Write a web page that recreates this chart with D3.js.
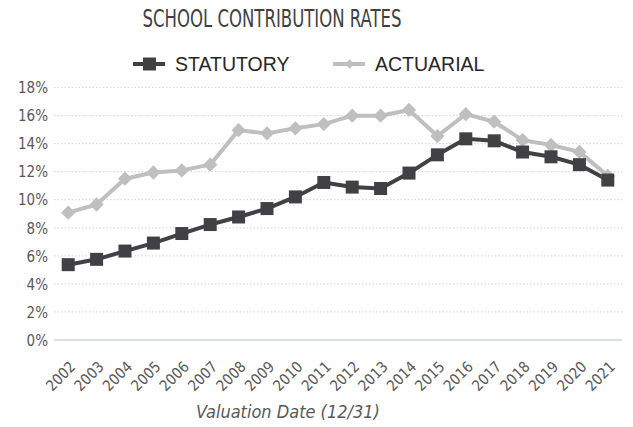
<!DOCTYPE html>
<style>
    body { margin: 0; background: #fff; }
    text { fill: #595959; }
    .tick text { font: 15px "DejaVu Sans Condensed", "DejaVu Sans", sans-serif; fill: #595959; }
    .title { font: 24px "DejaVu Sans Condensed", sans-serif; fill: #404040; }
    .legend text { font: 19.5px "Liberation Sans", Arial, sans-serif; fill: #262626; }
    .xtitle { font: italic 18px "DejaVu Sans Condensed", sans-serif; fill: #595959; }
</style>
<svg width="633" height="427"></svg>
<script src="https://d3js.org/d3.v7.min.js"></script>
<script>
    var years = ["2002","2003","2004","2005","2006","2007","2008","2009","2010","2011",
                 "2012","2013","2014","2015","2016","2017","2018","2019","2020","2021"];
    var statutory = [5.37, 5.75, 6.34, 6.91, 7.59, 8.23, 8.77, 9.37, 10.2, 11.23,
                     10.9, 10.8, 11.9, 13.2, 14.34, 14.2, 13.4, 13.06, 12.5, 11.4];
    var actuarial = [9.08, 9.66, 11.5, 11.94, 12.09, 12.5, 14.96, 14.73, 15.09, 15.39,
                     15.99, 15.99, 16.4, 14.54, 16.1, 15.56, 14.25, 13.9, 13.41, 11.7];
    var yTicks = [0, 2, 4, 6, 8, 10, 12, 14, 16, 18];

    var svg = d3.select('svg'),
        plotL = 54, plotR = 622, plotT = 87.5, plotB = 340;

    var x = d3.scalePoint().domain(years).range([plotL, plotR]).padding(0.5);
    var y = d3.scaleLinear().domain([0, 18]).range([plotB, plotT]);

    // gridlines
    svg.append('g').selectAll('line')
        .data(yTicks.filter(function(d) { return d > 0; }))
        .enter().append('line')
        .attr('x1', plotL).attr('x2', plotR)
        .attr('y1', function(d) { return y(d); })
        .attr('y2', function(d) { return y(d); })
        .attr('stroke', '#d9d9d9')
        .attr('stroke-width', 1.2)
        .attr('stroke-dasharray', '1.5,2');

    svg.append('line')
        .attr('x1', plotL).attr('x2', plotR)
        .attr('y1', y(0)).attr('y2', y(0))
        .attr('stroke', '#c9d4e6').attr('stroke-width', 1.5);

    // y axis
    var yAxis = svg.append('g')
        .attr('transform', 'translate(' + (plotL - 6) + ',0)')
        .call(d3.axisLeft(y).tickValues(yTicks).tickSize(0).tickFormat(function(d) { return d + '%'; }));
    yAxis.select('.domain').remove();
    yAxis.selectAll('text').attr('dy', '0.35em').attr('x', 0);

    // x axis
    var xAxis = svg.append('g')
        .attr('transform', 'translate(0,' + plotB + ')')
        .call(d3.axisBottom(x).tickSize(0));
    xAxis.select('.domain').remove();
    xAxis.selectAll('text')
        .attr('text-anchor', 'end')
        .attr('dy', '0.35em')
        .attr('transform', 'translate(4,24) rotate(-45)')
        .attr('x', 0).attr('y', 0);

    // lines
    var line = d3.line()
        .x(function(d, i) { return x(years[i]); })
        .y(function(d) { return y(d); });

    svg.append('path').datum(actuarial)
        .attr('d', line).attr('fill', 'none')
        .attr('stroke', '#bfbfbf').attr('stroke-width', 4).attr('stroke-linejoin', 'round');
    svg.append('path').datum(statutory)
        .attr('d', line).attr('fill', 'none')
        .attr('stroke', '#404045').attr('stroke-width', 4).attr('stroke-linejoin', 'round');

    var diamond = d3.symbol().type(d3.symbolDiamond2).size(130);
    svg.append('g').selectAll('path')
        .data(actuarial).enter().append('path')
        .attr('d', diamond)
        .attr('transform', function(d, i) { return 'translate(' + x(years[i]) + ',' + y(d) + ')'; })
        .attr('fill', '#bfbfbf');

    svg.append('g').selectAll('rect')
        .data(statutory).enter().append('rect')
        .attr('x', function(d, i) { return x(years[i]) - 6.5; })
        .attr('y', function(d) { return y(d) - 6.5; })
        .attr('width', 13).attr('height', 13)
        .attr('fill', '#404045');

    // title
    svg.append('text').attr('class', 'title')
        .attr('x', 272).attr('y', 27).attr('text-anchor', 'middle')
        .attr('textLength', 259).attr('lengthAdjust', 'spacingAndGlyphs')
        .text('SCHOOL CONTRIBUTION RATES');

    // legend
    var lg = svg.append('g').attr('class', 'legend');
    lg.append('line').attr('x1', 133).attr('x2', 165).attr('y1', 64).attr('y2', 64)
        .attr('stroke', '#404045').attr('stroke-width', 4);
    lg.append('rect').attr('x', 143).attr('y', 57.5).attr('width', 13).attr('height', 13).attr('fill', '#404045');
    lg.append('text').attr('x', 175).attr('y', 71).text('STATUTORY');
    lg.append('line').attr('x1', 333).attr('x2', 365).attr('y1', 64).attr('y2', 64)
        .attr('stroke', '#bfbfbf').attr('stroke-width', 4);
    lg.append('path').attr('d', d3.symbol().type(d3.symbolDiamond2).size(55))
        .attr('transform', 'translate(349.5,64)').attr('fill', '#bfbfbf');
    lg.append('text').attr('x', 375).attr('y', 71).text('ACTUARIAL');

    // x axis title
    svg.append('text').attr('class', 'xtitle')
        .attr('x', 288).attr('y', 418).attr('text-anchor', 'middle')
        .text('Valuation Date (12/31)');
</script>
